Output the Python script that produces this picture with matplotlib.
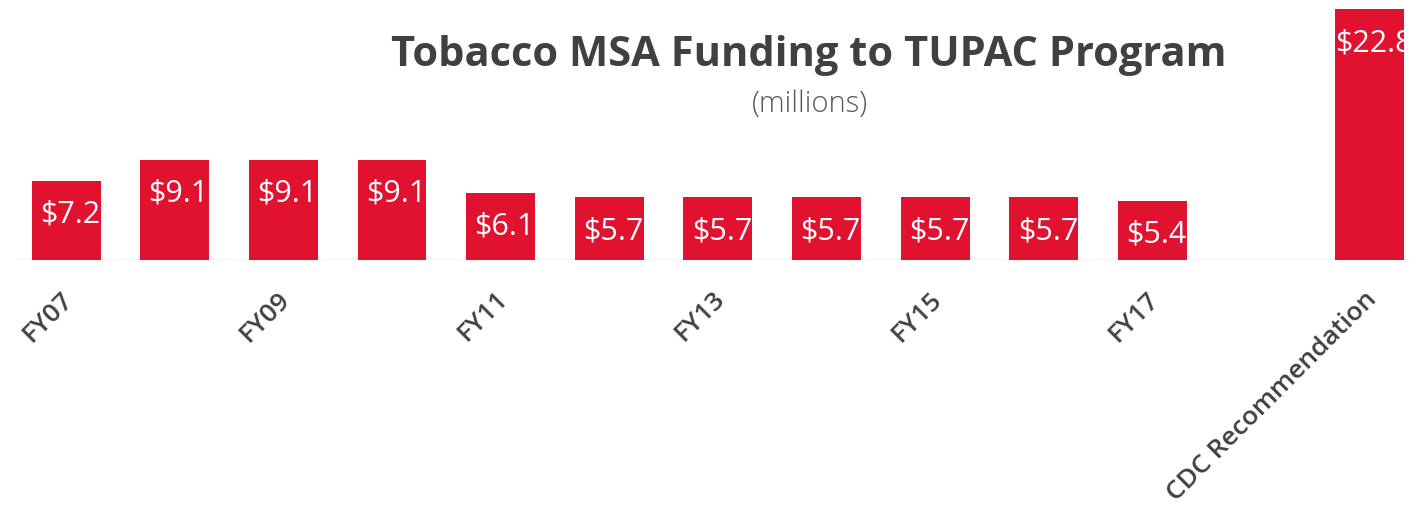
import matplotlib
matplotlib.use("Agg")
import matplotlib.pyplot as plt
from matplotlib.transforms import Bbox, TransformedBbox, ScaledTranslation

# --- data ---
categories = ["FY07", "FY08", "FY09", "FY10", "FY11", "FY12", "FY13",
              "FY14", "FY15", "FY16", "FY17", "", "CDC Recommendation"]
funding = [7.2, 9.1, 9.1, 9.1, 6.1, 5.7, 5.7, 5.7, 5.7, 5.7, 5.4, None, 22.8]
shown_ticks = ["FY07", "FY09", "FY11", "FY13", "FY15", "FY17", "CDC Recommendation"]

red = "#E1122F"
dark = "#404040"
font = ["Open Sans", "DejaVu Sans"]

fig = plt.figure(figsize=(14.1, 5.06), dpi=100)
ax = fig.add_axes([15 / 1410, 245 / 506, 1395 / 1410, 253 / 506])

xs = [i for i, v in enumerate(funding) if v is not None]
vals = [v for v in funding if v is not None]
bars = ax.bar(xs, vals, width=0.635, color=red, zorder=2)

ax.set_xlim(-0.47, 12.37)
ax.set_ylim(0, 23.0)

# value labels near the top of each bar, cut off where they run past the bar
for b, v in zip(bars, vals):
    x0 = b.get_x()
    cx = x0 + b.get_width() / 2
    t = ax.annotate(f"${v}", (cx, v), xytext=(4, -33), textcoords="offset pixels",
                    ha="center", va="center", color="white", fontsize=22,
                    family=font, zorder=3)
    box = TransformedBbox(Bbox([[x0, 0], [x0 + b.get_width(), v]]), ax.transData)
    t.set_clip_box(box)
    t.set_clip_on(True)

# baseline
ax.axhline(0, color="#d0d0d0", lw=1, zorder=1)
for s in ax.spines.values():
    s.set_visible(False)
ax.set_yticks([])

tick_pos = [categories.index(c) for c in shown_ticks]
ax.set_xticks(tick_pos)
ax.set_xticklabels(shown_ticks, rotation=45, ha="right", va="center",
                   rotation_mode="anchor", fontsize=19, fontweight="semibold",
                   color=dark, family=font)
ax.tick_params(axis="x", length=0, pad=25)
shift = ScaledTranslation(3 / 100, 0, fig.dpi_scale_trans)
for lab in ax.get_xticklabels():
    lab.set_transform(lab.get_transform() + shift)

fig.text(809 / 1410, 1 - 55 / 506, "Tobacco MSA Funding to TUPAC Program",
         ha="center", va="center", fontsize=30, fontweight="bold",
         color=dark, family=font)
fig.text(810 / 1410, 1 - 104 / 506, "(millions)", ha="center", va="center",
         fontsize=21, color="#595959", family=font, fontweight="light")

fig.savefig("out.png", dpi=100)
